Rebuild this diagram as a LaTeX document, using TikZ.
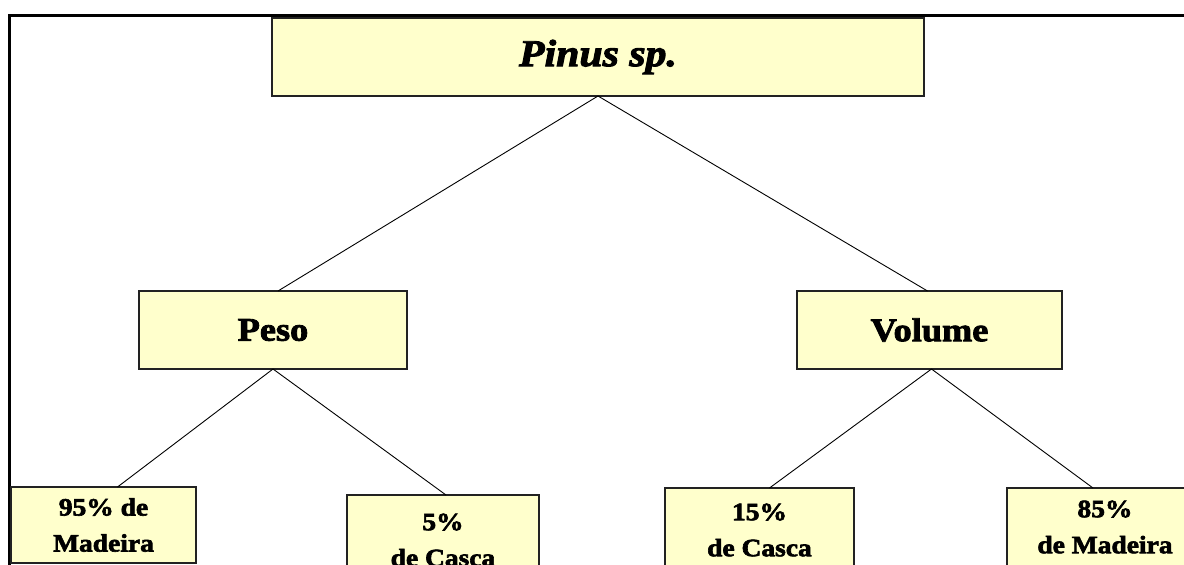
\documentclass[tikz,border=0pt]{standalone}
\usepackage{fontspec}
\newfontfamily\boxfont[FakeStretch=1.1,FakeBold=2.5]{Liberation Serif}
\usepackage{tikz}
\definecolor{boxyellow}{HTML}{FFFFCC}
\definecolor{boxline}{HTML}{222222}

\begin{document}
\begin{tikzpicture}[x=1pt, y=-1pt,
  box/.style={rectangle, draw=boxline, line width=1.6pt, fill=boxyellow,
              inner sep=0pt, outer sep=0pt, align=center},
  top/.style={box, font=\boxfont\bfseries\itshape\fontsize{38}{40}\selectfont,
              minimum width=652pt, minimum height=78pt},
  mid/.style={box, font=\boxfont\bfseries\fontsize{33}{36}\selectfont,
              minimum height=78pt},
  leaf/.style={box, font=\boxfont\bfseries\fontsize{25}{36}\selectfont},
  ln/.style={black, line width=0.9pt}]
\clip (0,0) rectangle (1184,565);
% frame
\draw[line width=3pt] (9,600) -- (9,15) -- (1220,15);
\node[top] (pinus) at (598,57) {Pinus sp.};
\node[mid, minimum width=268pt] (peso) at (273,330) {Peso};
\node[mid, minimum width=265pt] (volume) at (929.5,330) {Volume};
\node[leaf, minimum width=185pt, minimum height=76pt] (madA) at (103.5,525) {95\% de\\Madeira};
\node[leaf, minimum width=192pt, minimum height=90pt] (casA) at (443,540) {5\%\\de Casca};
\node[leaf, minimum width=189pt, minimum height=84pt] (casB) at (759.5,530) {15\%\\de Casca};
\node[leaf, minimum width=196pt, minimum height=78pt] (madB) at (1105,527) {85\%\\de Madeira};
\draw[ln] (pinus.south) -- ([xshift=5pt]peso.north);
\draw[ln] (pinus.south) -- ([xshift=-2pt]volume.north);
\draw[ln] (peso.south) -- ([xshift=14pt]madA.north);
\draw[ln] (peso.south) -- ([xshift=3pt]casA.north);
\draw[ln] ([xshift=2pt]volume.south) -- ([xshift=10pt]casB.north);
\draw[ln] ([xshift=2pt]volume.south) -- ([xshift=-12pt]madB.north);
\end{tikzpicture}
\end{document}
